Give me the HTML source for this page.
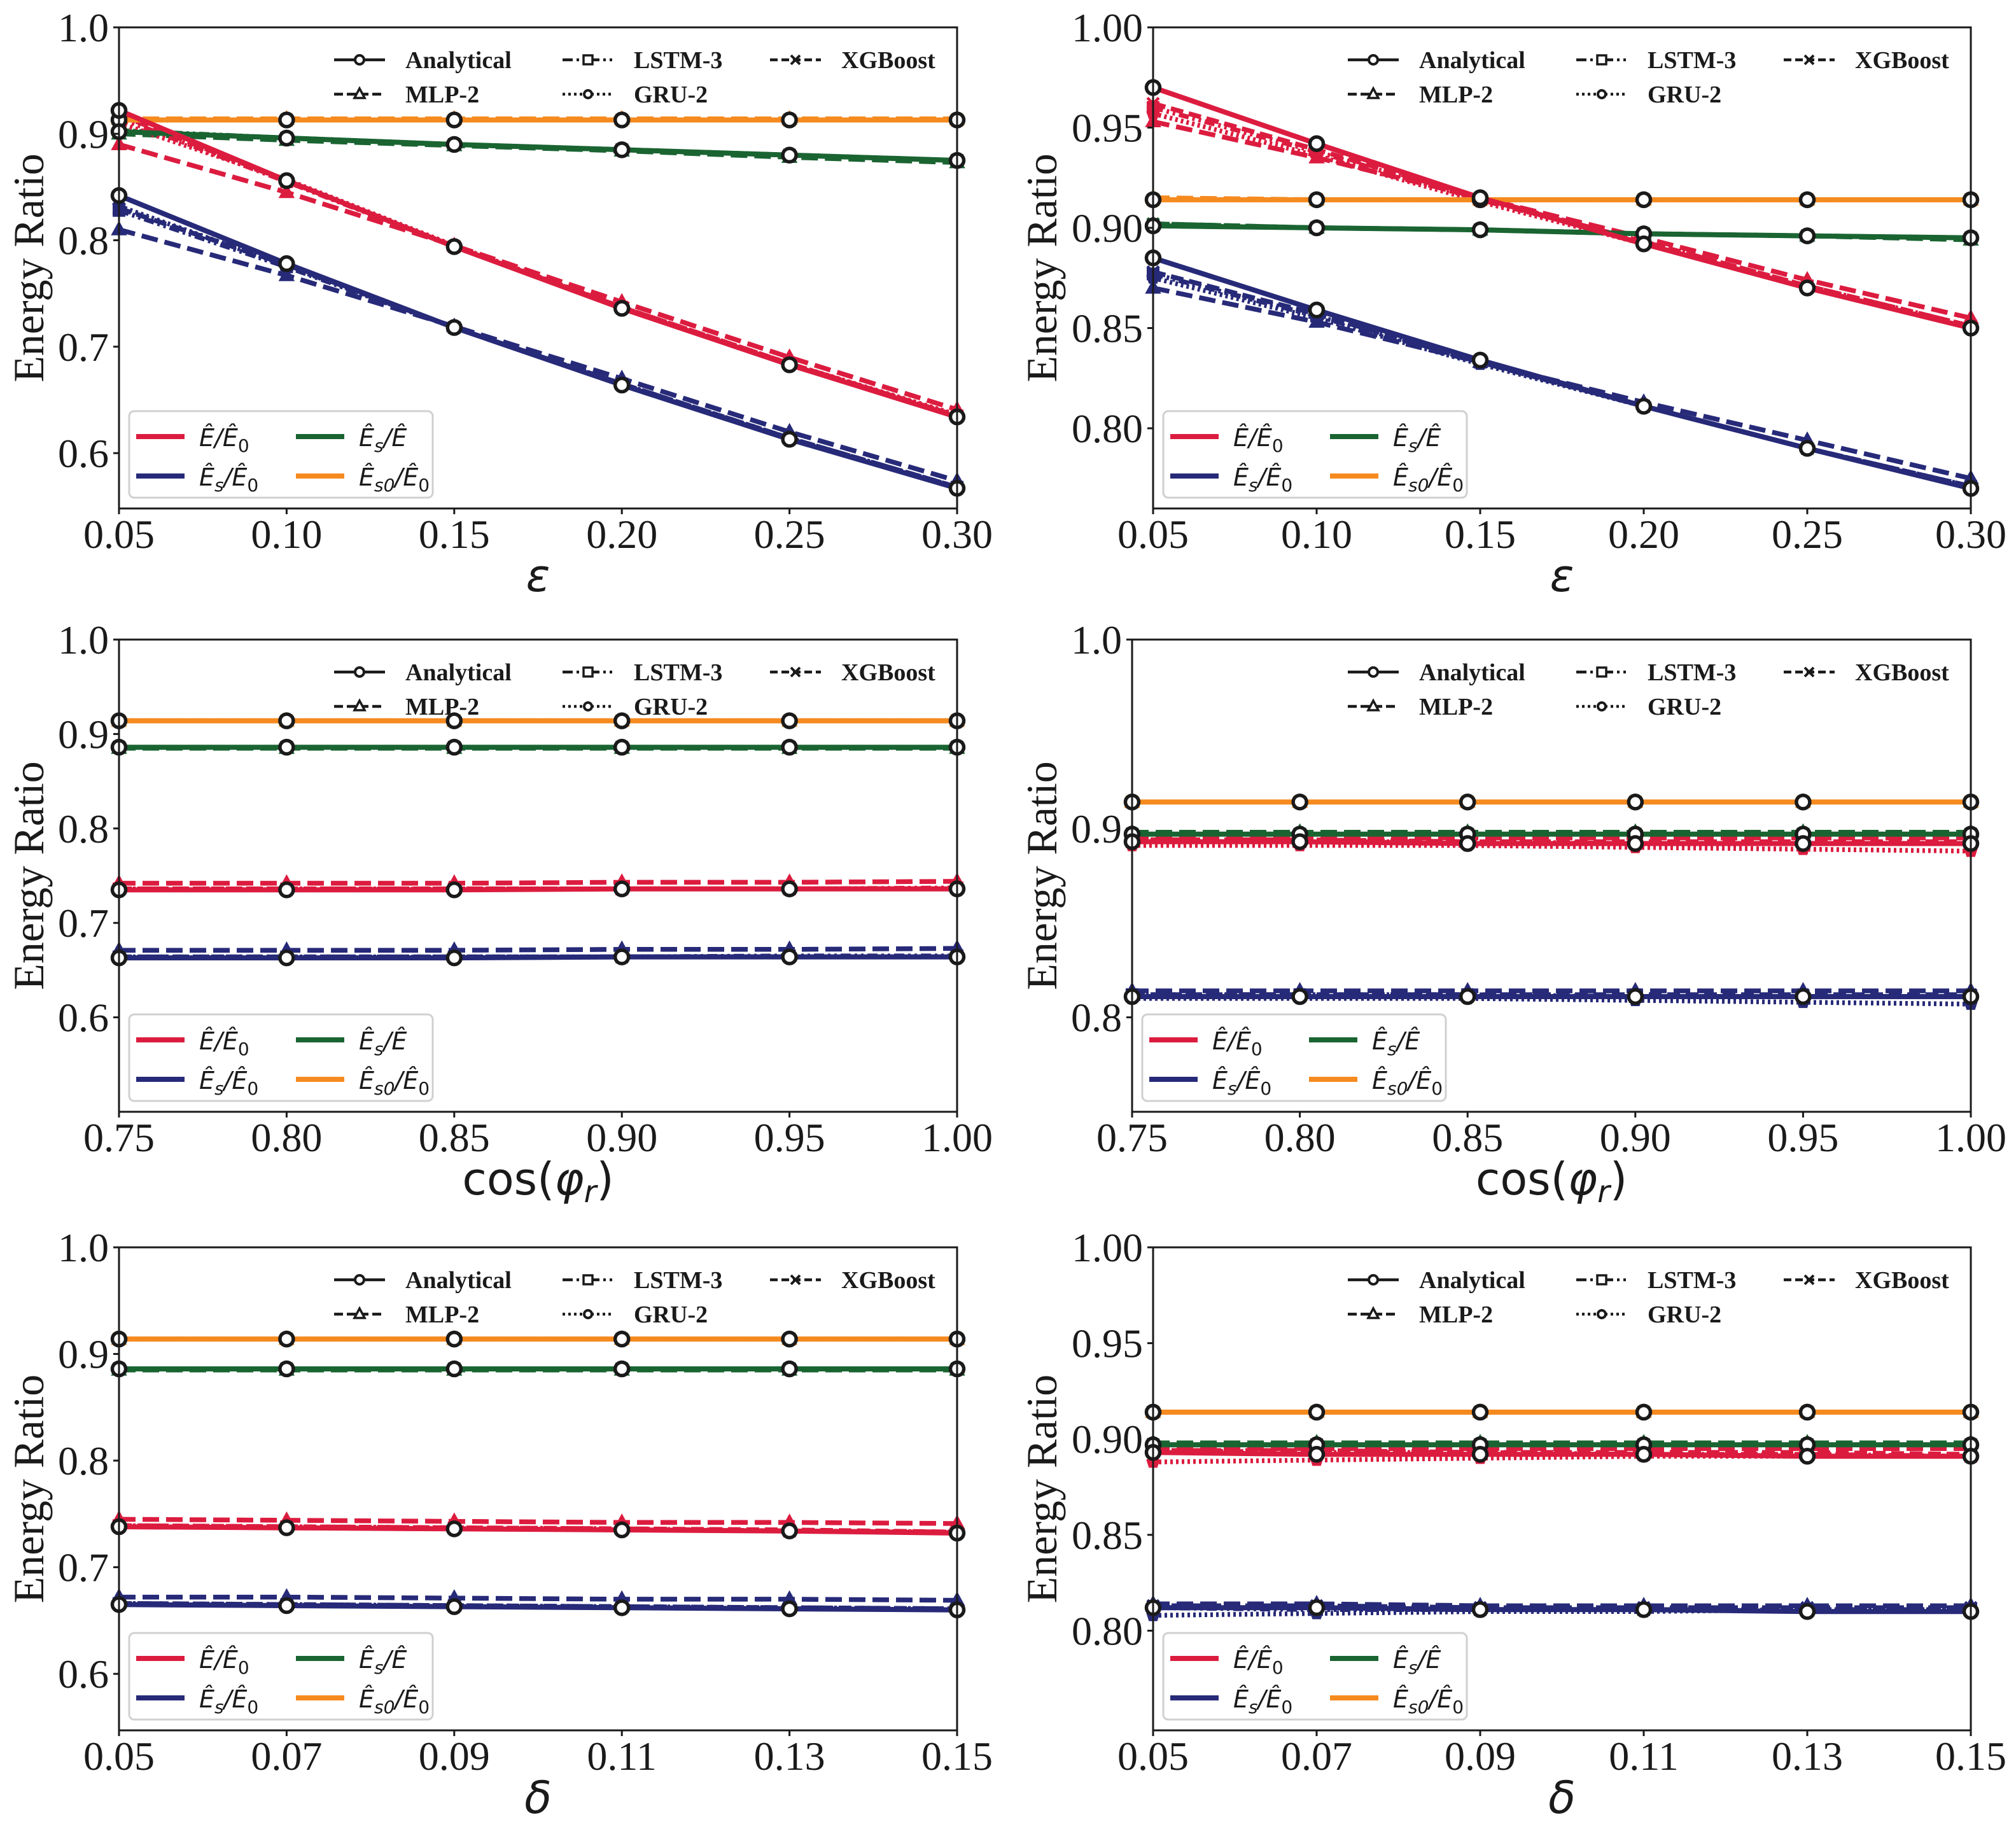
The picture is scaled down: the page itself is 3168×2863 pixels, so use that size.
<!DOCTYPE html>
<html><head><meta charset="utf-8">
<style>
html,body{margin:0;padding:0;background:#fff;}
svg{display:block;}
</style></head>
<body>
<svg id="fig" xmlns="http://www.w3.org/2000/svg" width="3168" height="2863" viewBox="0 0 3168 2863"></svg>
<script>
// ---------- data ----------
const xEps = [0.05, 0.10, 0.15, 0.20, 0.25, 0.30];
const xCos = [0.75, 0.80, 0.85, 0.90, 0.95, 1.00];
const xDel = [0.05, 0.07, 0.09, 0.11, 0.13, 0.15];
const xTickEps = ['0.05','0.10','0.15','0.20','0.25','0.30'];
const xTickCos = ['0.75','0.80','0.85','0.90','0.95','1.00'];
const xTickDel = ['0.05','0.07','0.09','0.11','0.13','0.15'];
const yTickA = ['0.6','0.7','0.8','0.9','1.0'];
const yTickB = ['0.80','0.85','0.90','0.95','1.00'];
const yTickD = ['0.8','0.9','1.0'];

// panel A (eps, left)
const A_red  = {an:[0.922,0.856,0.794,0.736,0.683,0.634], mlp:[0.890,0.845,0.795,0.742,0.690,0.641], lstm:[0.915,0.855,0.794,0.737,0.684,0.635], gru:[0.910,0.857,0.795,0.737,0.684,0.636], xgb:[0.918,0.856,0.794,0.737,0.684,0.635]};
const A_blue = {an:[0.842,0.778,0.718,0.664,0.613,0.567], mlp:[0.810,0.767,0.719,0.670,0.620,0.574], lstm:[0.828,0.775,0.718,0.665,0.614,0.568], gru:[0.832,0.776,0.718,0.665,0.614,0.568], xgb:[0.830,0.777,0.718,0.665,0.614,0.568]};
const A_green= {an:[0.902,0.896,0.890,0.885,0.880,0.875], mlp:[0.900,0.894,0.889,0.884,0.878,0.873], lstm:[0.903,0.896,0.890,0.885,0.880,0.875], gru:[0.902,0.896,0.890,0.885,0.880,0.875], xgb:[0.902,0.896,0.890,0.885,0.880,0.875]};
const A_orng = {an:[0.913,0.913,0.913,0.913,0.913,0.913], mlp:[0.914,0.914,0.914,0.914,0.914,0.914], lstm:[0.913,0.913,0.913,0.913,0.913,0.913], gru:[0.913,0.913,0.913,0.913,0.913,0.913], xgb:[0.913,0.913,0.913,0.913,0.913,0.913]};
// panel B (eps, right)
const B_red  = {an:[0.970,0.942,0.915,0.892,0.870,0.850], mlp:[0.953,0.935,0.915,0.895,0.874,0.855], lstm:[0.960,0.938,0.914,0.893,0.871,0.851], gru:[0.957,0.936,0.913,0.892,0.870,0.850], xgb:[0.962,0.939,0.915,0.893,0.871,0.851]};
const B_blue = {an:[0.885,0.859,0.834,0.811,0.790,0.770], mlp:[0.870,0.853,0.833,0.813,0.794,0.775], lstm:[0.877,0.856,0.833,0.811,0.790,0.771], gru:[0.875,0.855,0.832,0.811,0.790,0.771], xgb:[0.878,0.857,0.833,0.811,0.790,0.771]};
const B_green= {an:[0.901,0.900,0.899,0.897,0.896,0.895], mlp:[0.902,0.900,0.899,0.897,0.896,0.894], lstm:[0.901,0.900,0.899,0.897,0.896,0.895], gru:[0.901,0.900,0.899,0.897,0.896,0.895], xgb:[0.902,0.900,0.899,0.897,0.896,0.895]};
const B_orng = {an:[0.914,0.914,0.914,0.914,0.914,0.914], mlp:[0.915,0.914,0.914,0.914,0.914,0.914], lstm:[0.914,0.914,0.914,0.914,0.914,0.914], gru:[0.914,0.914,0.914,0.914,0.914,0.914], xgb:[0.914,0.914,0.914,0.914,0.914,0.914]};
// panel C (cos, left)
const C_red  = {an:[0.735,0.735,0.735,0.736,0.736,0.736], mlp:[0.742,0.742,0.742,0.743,0.743,0.744], lstm:[0.736,0.736,0.736,0.736,0.736,0.737], gru:[0.735,0.735,0.736,0.736,0.736,0.736], xgb:[0.736,0.736,0.736,0.736,0.736,0.736]};
const C_blue = {an:[0.663,0.663,0.663,0.664,0.664,0.664], mlp:[0.671,0.671,0.671,0.672,0.672,0.673], lstm:[0.664,0.664,0.664,0.664,0.665,0.665], gru:[0.663,0.663,0.664,0.664,0.664,0.664], xgb:[0.664,0.664,0.664,0.664,0.664,0.664]};
const C_green= {an:[0.886,0.886,0.886,0.886,0.886,0.886], mlp:[0.885,0.885,0.885,0.885,0.885,0.885], lstm:[0.886,0.886,0.886,0.886,0.886,0.886], gru:[0.886,0.886,0.886,0.886,0.886,0.886], xgb:[0.886,0.886,0.886,0.886,0.886,0.886]};
const C_orng = {an:[0.914,0.914,0.914,0.914,0.914,0.914], mlp:[0.914,0.914,0.914,0.914,0.914,0.914], lstm:[0.914,0.914,0.914,0.914,0.914,0.914], gru:[0.914,0.914,0.914,0.914,0.914,0.914], xgb:[0.914,0.914,0.914,0.914,0.914,0.914]};
// panel D (cos, right)
const D_red  = {an:[0.893,0.893,0.892,0.892,0.892,0.892], mlp:[0.895,0.895,0.895,0.895,0.895,0.895], lstm:[0.893,0.893,0.893,0.892,0.892,0.892], gru:[0.891,0.891,0.891,0.890,0.889,0.888], xgb:[0.894,0.894,0.893,0.893,0.893,0.893]};
const D_blue = {an:[0.811,0.811,0.811,0.811,0.811,0.811], mlp:[0.814,0.814,0.814,0.814,0.814,0.814], lstm:[0.812,0.812,0.812,0.811,0.811,0.811], gru:[0.810,0.810,0.810,0.809,0.808,0.807], xgb:[0.812,0.812,0.812,0.812,0.812,0.812]};
const D_green= {an:[0.897,0.897,0.897,0.897,0.897,0.897], mlp:[0.898,0.898,0.898,0.898,0.898,0.898], lstm:[0.897,0.897,0.897,0.897,0.897,0.897], gru:[0.897,0.897,0.897,0.897,0.897,0.897], xgb:[0.897,0.897,0.897,0.897,0.897,0.897]};
const D_orng = {an:[0.914,0.914,0.914,0.914,0.914,0.914], mlp:[0.914,0.914,0.914,0.914,0.914,0.914], lstm:[0.914,0.914,0.914,0.914,0.914,0.914], gru:[0.914,0.914,0.914,0.914,0.914,0.914], xgb:[0.914,0.914,0.914,0.914,0.914,0.914]};
// panel E (delta, left)
const E_red  = {an:[0.738,0.737,0.736,0.735,0.734,0.732], mlp:[0.745,0.744,0.743,0.742,0.742,0.741], lstm:[0.739,0.738,0.737,0.736,0.734,0.733], gru:[0.738,0.737,0.736,0.735,0.734,0.733], xgb:[0.739,0.738,0.737,0.736,0.735,0.733]};
const E_blue = {an:[0.665,0.664,0.663,0.662,0.661,0.660], mlp:[0.672,0.672,0.671,0.670,0.670,0.669], lstm:[0.666,0.665,0.664,0.663,0.662,0.661], gru:[0.665,0.664,0.663,0.662,0.661,0.660], xgb:[0.666,0.665,0.664,0.663,0.662,0.661]};
const E_green= {an:[0.886,0.886,0.886,0.886,0.886,0.886], mlp:[0.885,0.885,0.885,0.885,0.885,0.885], lstm:[0.886,0.886,0.886,0.886,0.886,0.886], gru:[0.886,0.886,0.886,0.886,0.886,0.886], xgb:[0.886,0.886,0.886,0.886,0.886,0.886]};
const E_orng = {an:[0.914,0.914,0.914,0.914,0.914,0.914], mlp:[0.914,0.914,0.914,0.914,0.914,0.914], lstm:[0.914,0.914,0.914,0.914,0.914,0.914], gru:[0.914,0.914,0.914,0.914,0.914,0.914], xgb:[0.914,0.914,0.914,0.914,0.914,0.914]};
// panel F (delta, right)
const F_red  = {an:[0.893,0.892,0.892,0.892,0.891,0.891], mlp:[0.895,0.895,0.895,0.895,0.895,0.895], lstm:[0.894,0.893,0.893,0.892,0.892,0.891], gru:[0.888,0.889,0.890,0.891,0.891,0.891], xgb:[0.894,0.894,0.893,0.893,0.893,0.892]};
const F_blue = {an:[0.812,0.812,0.811,0.811,0.810,0.810], mlp:[0.814,0.814,0.813,0.813,0.813,0.813], lstm:[0.812,0.811,0.811,0.811,0.811,0.811], gru:[0.808,0.809,0.810,0.810,0.811,0.811], xgb:[0.813,0.813,0.812,0.812,0.812,0.812]};
const F_green= {an:[0.897,0.897,0.897,0.897,0.897,0.897], mlp:[0.898,0.898,0.898,0.898,0.898,0.898], lstm:[0.897,0.897,0.897,0.897,0.897,0.897], gru:[0.897,0.897,0.897,0.897,0.897,0.897], xgb:[0.897,0.897,0.897,0.897,0.897,0.897]};
const F_orng = {an:[0.914,0.914,0.914,0.914,0.914,0.914], mlp:[0.914,0.914,0.914,0.914,0.914,0.914], lstm:[0.914,0.914,0.914,0.914,0.914,0.914], gru:[0.914,0.914,0.914,0.914,0.914,0.914], xgb:[0.914,0.914,0.914,0.914,0.914,0.914]};

// ---------- layout / style ----------
const COL = {red:'#DC1C3F', blue:'#272A78', green:'#1A6432', orng:'#F58A1F'};
const DASH = {mlp:'26,11', lstm:'16,6,4,6,4,6', gru:'4,5', xgb:'20,9'};
const panels = [
  {id:'a', x0:187, x1:1504, y0:43, y1:799, ymin:0.548, ymax:1.0, xs:xEps, xt:xTickEps, yt:yTickA, xlab:'ε', ylx:68, series:{red:A_red,blue:A_blue,green:A_green,orng:A_orng}},
  {id:'b', x0:1812, x1:3097, y0:43, y1:799, ymin:0.760, ymax:1.0, xs:xEps, xt:xTickEps, yt:yTickB, xlab:'ε', ylx:1660, series:{red:B_red,blue:B_blue,green:B_green,orng:B_orng}},
  {id:'c', x0:187, x1:1504, y0:1005, y1:1747, ymin:0.500, ymax:1.0, xs:xCos, xt:xTickCos, yt:yTickA, xlab:'cos', ylx:68, series:{red:C_red,blue:C_blue,green:C_green,orng:C_orng}},
  {id:'d', x0:1779, x1:3097, y0:1005, y1:1747, ymin:0.750, ymax:1.0, xs:xCos, xt:xTickCos, yt:yTickD, xlab:'cos', ylx:1660, series:{red:D_red,blue:D_blue,green:D_green,orng:D_orng}},
  {id:'e', x0:187, x1:1504, y0:1960, y1:2719, ymin:0.547, ymax:1.0, xs:xDel, xt:xTickDel, yt:yTickA, xlab:'δ', ylx:68, series:{red:E_red,blue:E_blue,green:E_green,orng:E_orng}},
  {id:'f', x0:1812, x1:3097, y0:1960, y1:2719, ymin:0.748, ymax:1.0, xs:xDel, xt:xTickDel, yt:yTickB, xlab:'δ', ylx:1660, series:{red:F_red,blue:F_blue,green:F_green,orng:F_orng}}
];
const NS = 'http://www.w3.org/2000/svg';
const svg = document.getElementById('fig');
function mk(tag, attrs, parent){
  const e = document.createElementNS(NS, tag);
  for (const k in attrs) e.setAttribute(k, attrs[k]);
  parent.appendChild(e);
  return e;
}
function marker(kind, x, y, color, parent){
  let m;
  if (kind==='an'){ m = mk('circle',{cx:x,cy:y,r:10.5,fill:'#fff',stroke:'#1a1a1a','stroke-width':5.5},parent); }
  else if (kind==='mlp'){ m = mk('polygon',{points:`${x},${y-12} ${x-11},${y+8} ${x+11},${y+8}`,fill:color,stroke:color,'stroke-width':2},parent); }
  else if (kind==='lstm'){ m = mk('rect',{x:x-9,y:y-9,width:18,height:18,fill:color,stroke:color,'stroke-width':2},parent); }
  else if (kind==='gru'){ let p=[]; for(let i=0;i<5;i++){const a=-Math.PI/2+i*2*Math.PI/5; p.push((x+10*Math.cos(a)).toFixed(1)+','+(y+10*Math.sin(a)).toFixed(1));} m = mk('polygon',{points:p.join(' '),fill:color,stroke:color,'stroke-width':2},parent); }
  else { m = mk('path',{d:`M${x-9},${y-9}L${x+9},${y+9}M${x+9},${y-9}L${x-9},${y+9}`,stroke:color,'stroke-width':4.5,fill:'none'},parent); }
  return m;
}

panels.forEach(p=>{
  const g = mk('g',{},svg);
  
  
  const xmin = p.xs[0], xmax = p.xs[p.xs.length-1];
  const X = v => p.x0 + (v-xmin)/(xmax-xmin)*(p.x1-p.x0);
  const Y = v => p.y1 - (v-p.ymin)/(p.ymax-p.ymin)*(p.y1-p.y0);
  const clip = mk('clipPath',{id:'clip-'+p.id},g);
  mk('rect',{x:p.x0-14,y:p.y0,width:p.x1-p.x0+28,height:p.y1-p.y0},clip);
  const plot = mk('g',{'clip-path':`url(#clip-${p.id})`},g);
  
  
  ['orng','green','red','blue'].forEach(key=>{
    const s = p.series[key], col = COL[key];
    ['xgb','gru','lstm','mlp'].forEach(meth=>{
      const pts = s[meth].map((v,i)=>X(p.xs[i]).toFixed(1)+','+Y(v).toFixed(1)).join(' ');
      const ln = mk('polyline',{points:pts,fill:'none',stroke:col,'stroke-width':7.5,'stroke-dasharray':DASH[meth]},plot);
      
      
      s[meth].forEach((v,i)=>{
        const m = marker(meth, X(p.xs[i]), Y(v), col, plot);
        
        
      });
    });
  });
  ['orng','green','red','blue'].forEach(key=>{
    const s = p.series[key], col = COL[key];
    const pts = s.an.map((v,i)=>X(p.xs[i]).toFixed(1)+','+Y(v).toFixed(1)).join(' ');
    const ln = mk('polyline',{points:pts,fill:'none',stroke:col,'stroke-width':8},plot);
    
    
  });
  ['orng','green','red','blue'].forEach(key=>{
    p.series[key].an.forEach((v,i)=>{
      const m = marker('an', X(p.xs[i]), Y(v), COL[key], plot);
      
      
    });
  });
  // frame
  const fr = mk('rect',{x:p.x0,y:p.y0,width:p.x1-p.x0,height:p.y1-p.y0,fill:'none',stroke:'#1a1a1a','stroke-width':3},g);
  
  
  // x ticks
  p.xt.forEach((t,i)=>{
    const x = X(p.xs[i]);
    mk('line',{x1:x,y1:p.y1,x2:x,y2:p.y1+9,stroke:'#1a1a1a','stroke-width':3},g);
    const tx = mk('text',{x:x,y:p.y1+62,'text-anchor':'middle','font-family':'Liberation Serif, serif','font-size':64,fill:'#1a1a1a'},g);
    tx.textContent = t;
    
    
  });
  // y ticks
  p.yt.forEach(t=>{
    const y = Y(parseFloat(t));
    mk('line',{x1:p.x0-9,y1:y,x2:p.x0,y2:y,stroke:'#1a1a1a','stroke-width':3},g);
    const ty = mk('text',{x:p.x0-16,y:y+22,'text-anchor':'end','font-family':'Liberation Serif, serif','font-size':64,fill:'#1a1a1a'},g);
    ty.textContent = t;
    
    
  });
  // y label
  const yc = (p.y0+p.y1)/2;
  const yl = mk('text',{x:p.ylx,y:yc,'text-anchor':'middle','font-family':'Liberation Serif, serif','font-size':68,fill:'#1a1a1a',transform:`rotate(-90 ${p.ylx} ${yc})`},g);
  yl.textContent = 'Energy Ratio';
  
  
  // x label
  const xc = (p.x0+p.x1)/2;
  const xl = mk('text',{x:xc,y:p.y1+130,'text-anchor':'middle','font-family':'DejaVu Sans, sans-serif','font-size':70,fill:'#1a1a1a'},g);
  if (p.xlab==='cos'){
    xl.textContent = 'cos(';
    const ph = mk('tspan',{'font-style':'italic'},xl); ph.textContent='φ';
    const r = mk('tspan',{'font-style':'italic','font-size':48,dy:12},xl); r.textContent='r';
    const cl = mk('tspan',{dy:-12},xl); cl.textContent=')';
  } else {
    xl.setAttribute('font-style','italic');
    xl.textContent = p.xlab;
  }
  
  
  // method legend (top)
  const lg = mk('g',{},g);
  
  
  const meths = [
    {k:'an',lab:'Analytical',dx:-979,row:0,dash:''},
    {k:'lstm',lab:'LSTM-3',dx:-620,row:0,dash:DASH.lstm},
    {k:'xgb',lab:'XGBoost',dx:-294,row:0,dash:DASH.xgb},
    {k:'mlp',lab:'MLP-2',dx:-979,row:1,dash:DASH.mlp},
    {k:'gru',lab:'GRU-2',dx:-620,row:1,dash:DASH.gru}
  ];
  meths.forEach(m=>{
    const hx = p.x1 + m.dx, hy = p.y0 + 51 + m.row*54;
    const e = mk('g',{},lg);
    
    
    const at = {x1:hx,y1:hy,x2:hx+80,y2:hy,stroke:'#1a1a1a','stroke-width':4.5};
    if (m.dash) at['stroke-dasharray'] = m.k==='mlp'?'14,6':(m.k==='xgb'?'12,6':m.dash);
    mk('line',at,e);
    if (m.k==='an') mk('circle',{cx:hx+40,cy:hy,r:7,fill:'#fff',stroke:'#1a1a1a','stroke-width':4},e);
    else if (m.k==='gru') mk('circle',{cx:hx+40,cy:hy,r:6,fill:'#fff',stroke:'#1a1a1a','stroke-width':4},e);
    else if (m.k==='lstm') mk('rect',{x:hx+33,y:hy-7,width:14,height:14,fill:'#fff',stroke:'#1a1a1a','stroke-width':3.5},e);
    else if (m.k==='mlp') mk('polygon',{points:`${hx+40},${hy-9} ${hx+32},${hy+6} ${hx+48},${hy+6}`,fill:'#fff',stroke:'#1a1a1a','stroke-width':3.5},e);
    else mk('path',{d:`M${hx+33},${hy-7}L${hx+47},${hy+7}M${hx+47},${hy-7}L${hx+33},${hy+7}`,stroke:'#1a1a1a','stroke-width':4},e);
    const t = mk('text',{x:hx+112,y:hy+13,'font-family':'Liberation Serif, serif','font-weight':'bold','font-size':38,fill:'#1a1a1a'},e);
    t.textContent = m.lab;
  });
  // ratio legend (bottom-left)
  const rl = mk('g',{},g);
  
  
  const bx = p.x0+16, by = p.y1-153;
  mk('rect',{x:bx,y:by,width:477,height:136,rx:8,fill:'#fff',stroke:'#d0d0d0','stroke-width':3},rl);
  const ents = [
    {k:'red',col:0,row:0,parts:[['Ê/Ê',''],['0','sub']]},
    {k:'green',col:1,row:0,parts:[['Ê',''],['s','sub'],['/Ê','']]},
    {k:'blue',col:0,row:1,parts:[['Ê',''],['s','sub'],['/Ê',''],['0','sub']]},
    {k:'orng',col:1,row:1,parts:[['Ê',''],['s0','sub'],['/Ê',''],['0','sub']]}
  ];
  ents.forEach(en=>{
    const lx = bx+11+en.col*251, ly = by+40+en.row*62;
    const e = mk('g',{},rl);
    
    
    mk('line',{x1:lx,y1:ly,x2:lx+76,y2:ly,stroke:COL[en.k],'stroke-width':8},e);
    const t = mk('text',{x:lx+99,y:ly+15,'font-family':'DejaVu Sans, sans-serif','font-style':'italic','font-size':38,fill:'#1a1a1a'},e);
    let sub=false;
    en.parts.forEach(pt=>{
      const ts = mk('tspan',{},t);
      if (pt[1]==='sub' && !sub){ ts.setAttribute('dy',9); ts.setAttribute('font-size',28); sub=true; if(pt[0].indexOf('0')===0) ts.setAttribute('font-style','normal'); }
      else if (pt[1]!=='sub' && sub){ ts.setAttribute('dy',-9); sub=false; }
      ts.textContent = pt[0];
    });
  });
});
</script>
</body></html>
